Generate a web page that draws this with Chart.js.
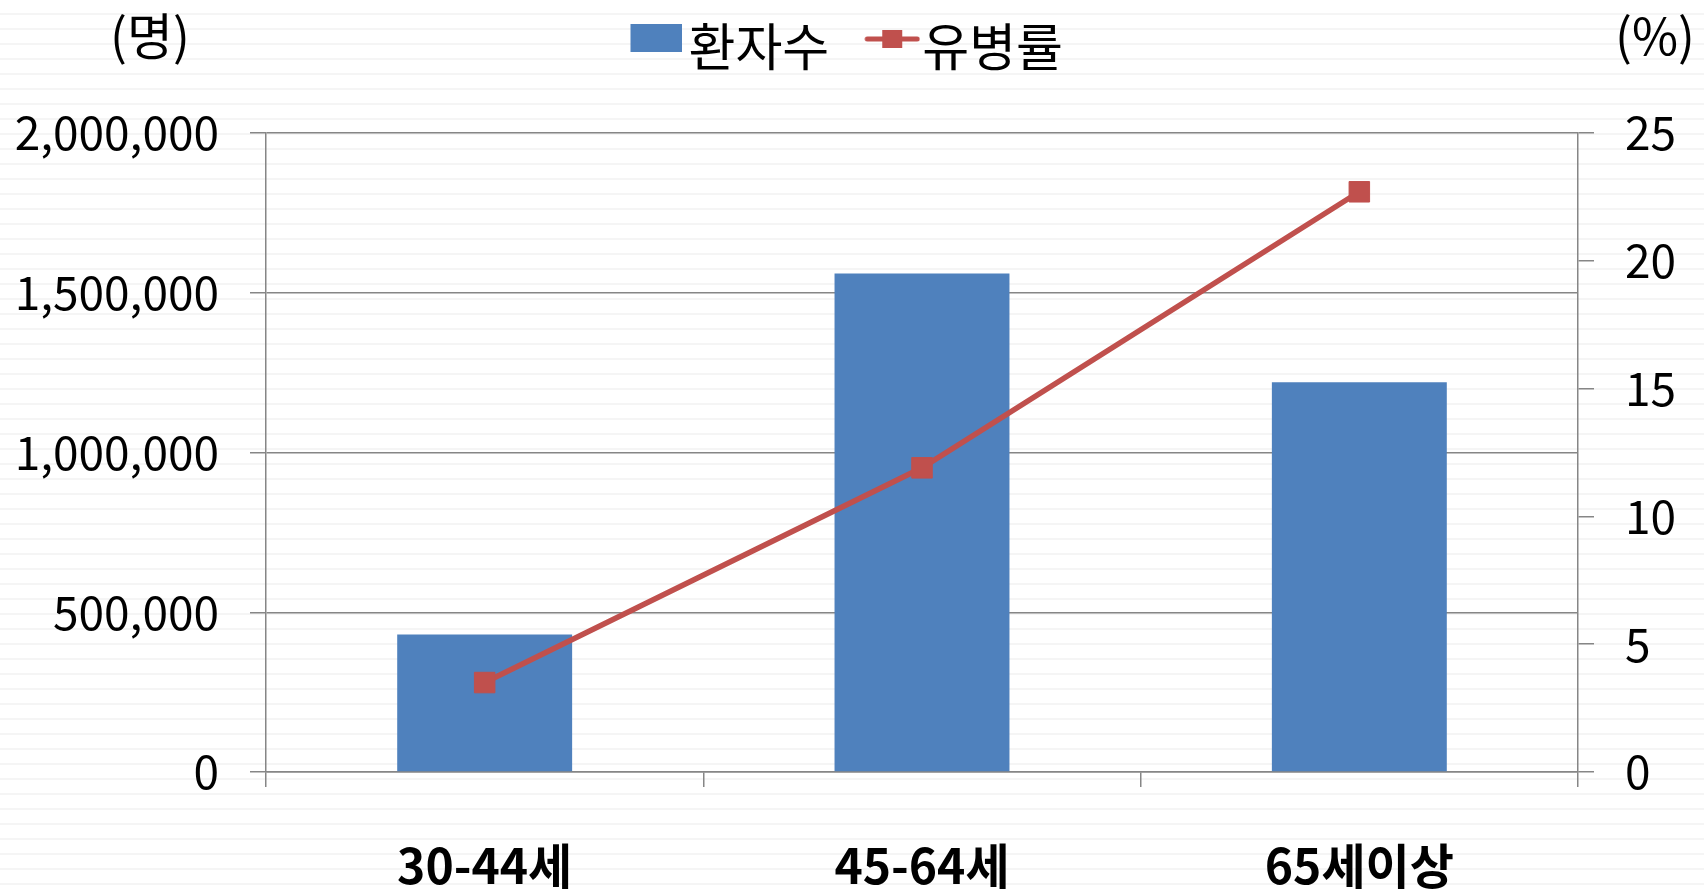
<!DOCTYPE html>
<html><head><meta charset="utf-8">
<script src="https://cdn.jsdelivr.net/npm/chart.js@4"></script>
<style>
html,body{margin:0;padding:0;}
body{width:1704px;height:893px;overflow:hidden;background:repeating-linear-gradient(to bottom,#ffffff 0px,#ffffff 13px,#f5f5f5 13px,#f5f5f5 15px);}
canvas{display:block;}
</style></head>
<body>
<canvas id="c" width="1704" height="893"></canvas>
<script>
// ---- data ----
const categories = ['30-44세', '45-64세', '65세이상'];
const seriesNames = ['환자수', '유병률'];
const patients = [430000, 1560000, 1220000];      // 환자수 (명)
const prevalence = [3.5, 11.9, 22.7];              // 유병률 (%)
const leftAxisRange = [0, 2000000, 500000];        // min, max, step
const rightAxisRange = [0, 25, 5];
const unitLabels = ['(명)', '(%)'];

const FONT = '"Noto Sans CJK KR", "Noto Sans", sans-serif';
const BAR_COLOR = '#4F81BD';
const LINE_COLOR = '#C0504D';
const AXIS_COLOR = '#868686';

function barLegendIcon() {
  const c = document.createElement('canvas');
  c.width = 85; c.height = 46;
  const g = c.getContext('2d');
  g.fillStyle = BAR_COLOR;
  g.fillRect(33, 0, 52, 28);
  return c;
}
function lineLegendIcon() {
  const c = document.createElement('canvas');
  c.width = 93; c.height = 46;
  const g = c.getContext('2d');
  g.strokeStyle = LINE_COLOR;
  g.lineWidth = 5;
  g.lineCap = 'round';
  g.beginPath(); g.moveTo(40, 15); g.lineTo(90, 15); g.stroke();
  g.fillStyle = LINE_COLOR;
  g.fillRect(65 - 10, 15 - 9, 20, 18);
  return c;
}

const layoutPlugin = {
  id: 'layoutTweaks',
  beforeUpdate(chart) {
    const lg = chart.legend;
    if (lg && !lg._patched) {
      const f = lg.fit;
      lg.fit = function () { f.call(this); this.height = 133; };
      lg._patched = true;
    }
  },
  afterLayout(chart) {
    const lg = chart.legend;
    if (lg) { lg.left -= 12; lg.right -= 12; }
  },
  afterDraw(chart) {
    const ctx = chart.ctx;
    ctx.save();
    ctx.fillStyle = '#000';
    ctx.font = '50px ' + FONT;
    ctx.textAlign = 'center';
    ctx.textBaseline = 'middle';
    ctx.fillText(unitLabels[0], 150, 36);
    ctx.fillText(unitLabels[1], 1655, 36);
    ctx.restore();
  }
};

new Chart(document.getElementById('c'), {
  type: 'bar',
  data: {
    labels: categories,
    datasets: [
      {
        type: 'line',
        label: seriesNames[1],
        data: prevalence,
        yAxisID: 'y1',
        borderColor: LINE_COLOR,
        backgroundColor: LINE_COLOR,
        borderWidth: 5.5,
        tension: 0,
        pointStyle: 'rect',
        pointRadius: 14.5,
        pointBorderWidth: 1,
        pointBackgroundColor: LINE_COLOR,
        pointBorderColor: LINE_COLOR,
        order: 0
      },
      {
        type: 'bar',
        label: seriesNames[0],
        data: patients,
        yAxisID: 'y',
        backgroundColor: BAR_COLOR,
        borderWidth: 0,
        categoryPercentage: 1,
        barPercentage: 0.4,
        order: 1
      }
    ]
  },
  options: {
    responsive: false,
    animation: false,
    devicePixelRatio: 1,
    layout: { padding: 0 },
    plugins: {
      tooltip: { enabled: false },
      legend: {
        position: 'top',
        labels: {
          usePointStyle: true,
          pointStyleWidth: 46,
          padding: 21.5,
          color: '#000',
          font: { family: FONT, size: 51 },
          generateLabels: () => [
            { text: seriesNames[0], pointStyle: barLegendIcon(), fillStyle: BAR_COLOR, strokeStyle: BAR_COLOR, lineWidth: 0, hidden: false, datasetIndex: 1, fontColor: '#000' },
            { text: seriesNames[1], pointStyle: lineLegendIcon(), fillStyle: LINE_COLOR, strokeStyle: LINE_COLOR, lineWidth: 0, hidden: false, datasetIndex: 0, fontColor: '#000' }
          ]
        }
      }
    },
    scales: {
      x: {
        offset: true,
        grid: { offset: true, drawOnChartArea: false, drawTicks: true, tickLength: 15, color: AXIS_COLOR, lineWidth: 1.5 },
        border: { display: true, color: AXIS_COLOR, width: 1.5 },
        ticks: { color: '#000', font: { family: FONT, size: 48, weight: 'bold' }, padding: 50, maxRotation: 0 },
        afterFit: s => { s.height = 121; }
      },
      y: {
        position: 'left',
        min: leftAxisRange[0], max: leftAxisRange[1],
        ticks: { stepSize: leftAxisRange[2], color: '#000', font: { family: FONT, size: 46 }, padding: 31,
                 callback: v => v.toLocaleString('en-US') },
        grid: { color: AXIS_COLOR, lineWidth: 1.5, tickLength: 16 },
        border: { display: true, color: AXIS_COLOR, width: 1.5 },
        afterFit: s => { s.width = 266; }
      },
      y1: {
        position: 'right',
        min: rightAxisRange[0], max: rightAxisRange[1],
        ticks: { stepSize: rightAxisRange[2], color: '#000', font: { family: FONT, size: 46 }, padding: 31 },
        grid: { drawOnChartArea: false, color: AXIS_COLOR, lineWidth: 1.5, tickLength: 16 },
        border: { display: true, color: AXIS_COLOR, width: 1.5 },
        afterFit: s => { s.width = 126; }
      }
    }
  },
  plugins: [layoutPlugin]
});
</script>
</body></html>
